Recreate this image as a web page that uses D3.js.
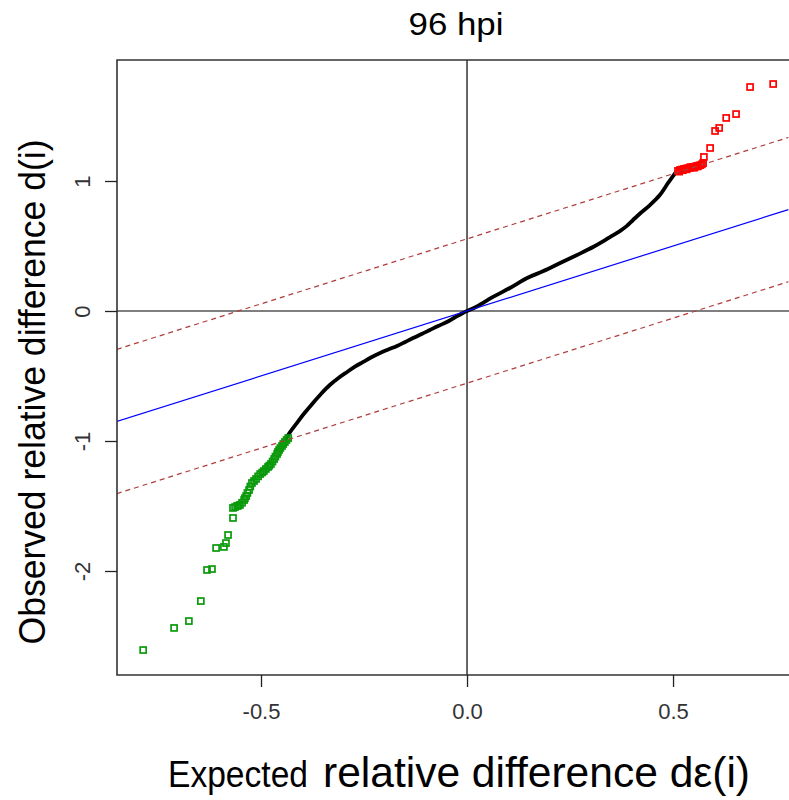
<!DOCTYPE html>
<html><head><meta charset="utf-8">
<script src="https://cdn.jsdelivr.net/npm/d3@7"></script>
<style>body{margin:0;background:#fff}svg{display:block}</style>
</head><body>
<script>
// ---- data ----
const title = "96 hpi";
const xTicks = [-0.5, 0, 0.5];
const yTicks = [-2, -1, 0, 1];
const delta = 0.555;
// black (non-significant) genes: expected vs observed
const blackX = [-0.442,-0.428,-0.413,-0.394,-0.374,-0.354,-0.333,-0.312,-0.291,-0.272,-0.252,-0.232,-0.211,-0.190,-0.170,-0.150,-0.131,-0.110,-0.090,-0.070,-0.049,-0.030,-0.010,0,
  0.024,0.063,0.104,0.146,0.184,0.226,0.267,0.306,0.330,0.347,0.371,0.388,0.403,0.420,0.444,0.468,0.488,0.507];
const blackY = [-0.992,-0.925,-0.862,-0.783,-0.708,-0.636,-0.569,-0.515,-0.469,-0.428,-0.392,-0.356,-0.323,-0.295,-0.269,-0.238,-0.208,-0.177,-0.146,-0.115,-0.085,-0.050,-0.015,0,
  0.035,0.108,0.177,0.254,0.305,0.369,0.431,0.492,0.535,0.569,0.615,0.655,0.700,0.750,0.815,0.892,0.985,1.069];
// significant induced genes (red)
const redX = [0.512,0.515,0.517,0.521,0.524,0.526,0.530,0.533,0.535,0.539,0.542,0.544,0.548,0.551,0.553,0.557,0.560,0.562,0.566,0.570,0.573,0.575,0.590,0.602,0.612,0.629,0.653,0.687,0.743];
const redY = [1.078,1.072,1.085,1.088,1.083,1.092,1.095,1.090,1.098,1.100,1.106,1.104,1.108,1.102,1.110,1.115,1.112,1.118,1.122,1.128,1.138,1.185,1.254,1.385,1.408,1.485,1.515,1.723,1.746];
// significant repressed genes (green)
const greenX = [-0.434,-0.438,-0.442,-0.446,-0.449,-0.453,-0.456,-0.459,-0.461,-0.465,-0.468,-0.472,-0.476,-0.480,-0.483,-0.488,-0.493,-0.497,-0.502,-0.507,-0.512,-0.517,-0.522,-0.526,-0.529,-0.533,-0.536,-0.539,-0.541,-0.546,-0.551,-0.555,-0.558,-0.563,-0.568,-0.568,-0.580,-0.585,-0.590,-0.609,-0.619,-0.631,-0.646,-0.675,-0.711,-0.786];
const greenY = [-0.977,-0.992,-1.008,-1.023,-1.038,-1.054,-1.069,-1.085,-1.100,-1.120,-1.138,-1.158,-1.177,-1.190,-1.200,-1.215,-1.231,-1.242,-1.254,-1.272,-1.292,-1.308,-1.323,-1.350,-1.377,-1.400,-1.423,-1.440,-1.454,-1.475,-1.492,-1.497,-1.500,-1.508,-1.515,-1.592,-1.723,-1.785,-1.815,-1.823,-1.985,-1.992,-2.231,-2.385,-2.438,-2.608];

// ---- chart ----
const W = 789, H = 800;
const FONT = "Liberation Sans, Arial, Helvetica, sans-serif";
const svg = d3.select("body").append("svg").attr("width", W).attr("height", H);
const x = d3.scaleLinear().domain([-0.85, 0.78]).range([116.8, 788.4]);
const y = d3.scaleLinear().domain([-2.8, 1.93]).range([675, 60.1]);
const pL = 117, pT = 60, pB = 675, pR = 792;

svg.append("clipPath").attr("id", "clip").append("rect")
  .attr("x", pL).attr("y", pT).attr("width", pR - pL).attr("height", pB - pT);
const plot = svg.append("g").attr("clip-path", "url(#clip)");

// black curve
const blackPts = blackX.map((v, i) => [v, blackY[i]]);
const line = d3.line().x(d => x(d[0])).y(d => y(d[1])).curve(d3.curveCatmullRom.alpha(0.5));
plot.append("path").datum(blackPts).attr("d", line)
  .attr("fill", "none").attr("stroke", "#000").attr("stroke-width", 3.8)
  .attr("stroke-linejoin", "round");

// red / green open squares
const sq = 6;
function squares(xs, ys, col) {
  plot.append("g").selectAll("rect").data(xs.map((v, i) => [v, ys[i]])).join("rect")
    .attr("x", d => x(d[0]) - sq / 2).attr("y", d => y(d[1]) - sq / 2)
    .attr("width", sq).attr("height", sq)
    .attr("fill", "none").attr("stroke", col).attr("stroke-width", 1.7);
}
squares(greenX, greenY, "#0a9a0a");
squares(redX, redY, "#ff0000");

// zero lines
plot.append("line").attr("x1", pL).attr("x2", pR).attr("y1", y(0)).attr("y2", y(0))
  .attr("stroke", "#000").attr("stroke-width", 1.2);
plot.append("line").attr("x1", x(0)).attr("x2", x(0)).attr("y1", pT).attr("y2", pB)
  .attr("stroke", "#000").attr("stroke-width", 1.2);

// reference lines y = x, y = x +/- delta
const xd = x.domain();
plot.append("line").attr("x1", x(xd[0])).attr("y1", y(xd[0])).attr("x2", x(xd[1])).attr("y2", y(xd[1]))
  .attr("stroke", "#0000ff").attr("stroke-width", 1.2);
[delta, -delta].forEach(dl => {
  plot.append("line").attr("x1", x(xd[0])).attr("y1", y(xd[0] + dl)).attr("x2", x(xd[1])).attr("y2", y(xd[1] + dl))
    .attr("stroke", "#b03c3c").attr("stroke-width", 1.2).attr("stroke-dasharray", "5,4");
});

// frame
svg.append("path").attr("d", `M${pR},${pT}H${pL}V${pB}H${pR}`)
  .attr("fill", "none").attr("stroke", "#333").attr("stroke-width", 1.6);

// axes
const xAxis = svg.append("g").attr("transform", `translate(0,${pB})`)
  .call(d3.axisBottom(x).tickValues(xTicks).tickFormat(d => d.toFixed(1)).tickSize(12).tickPadding(16));
xAxis.select(".domain").remove();
xAxis.selectAll("line").attr("stroke", "#222").attr("stroke-width", 1.3);
xAxis.selectAll("text").attr("font-family", FONT).attr("font-size", 22).attr("fill", "#333");

const yAxis = svg.append("g").attr("transform", `translate(${pL},0)`)
  .call(d3.axisLeft(y).tickValues(yTicks).tickFormat(d => String(d)).tickSize(12).tickPadding(0));
yAxis.select(".domain").remove();
yAxis.selectAll("line").attr("stroke", "#222").attr("stroke-width", 1.3);
yAxis.selectAll("text")
  .attr("font-family", FONT).attr("font-size", 22).attr("fill", "#333")
  .attr("text-anchor", "middle").attr("x", null).attr("dy", null)
  .attr("transform", `translate(-27,0) rotate(-90)`);

// title
svg.append("text").attr("x", 456).attr("y", 35).attr("text-anchor", "middle")
  .attr("font-family", FONT).attr("font-size", 31)
  .attr("textLength", 95).attr("lengthAdjust", "spacingAndGlyphs").text(title);

// y label
svg.append("text").attr("transform", `translate(45,392) rotate(-90)`).attr("text-anchor", "middle")
  .attr("font-family", FONT).attr("font-size", 36)
  .attr("textLength", 505).attr("lengthAdjust", "spacingAndGlyphs")
  .text("Observed relative difference d(i)");

// x label
svg.append("text").attr("x", 168).attr("y", 787)
  .attr("font-family", FONT).attr("font-size", 36)
  .attr("textLength", 140).attr("lengthAdjust", "spacingAndGlyphs").text("Expected");
svg.append("text").attr("x", 323).attr("y", 787)
  .attr("font-family", FONT).attr("font-size", 42)
  .attr("textLength", 427).attr("lengthAdjust", "spacingAndGlyphs").text("relative difference dε(i)");
</script>
</body></html>
